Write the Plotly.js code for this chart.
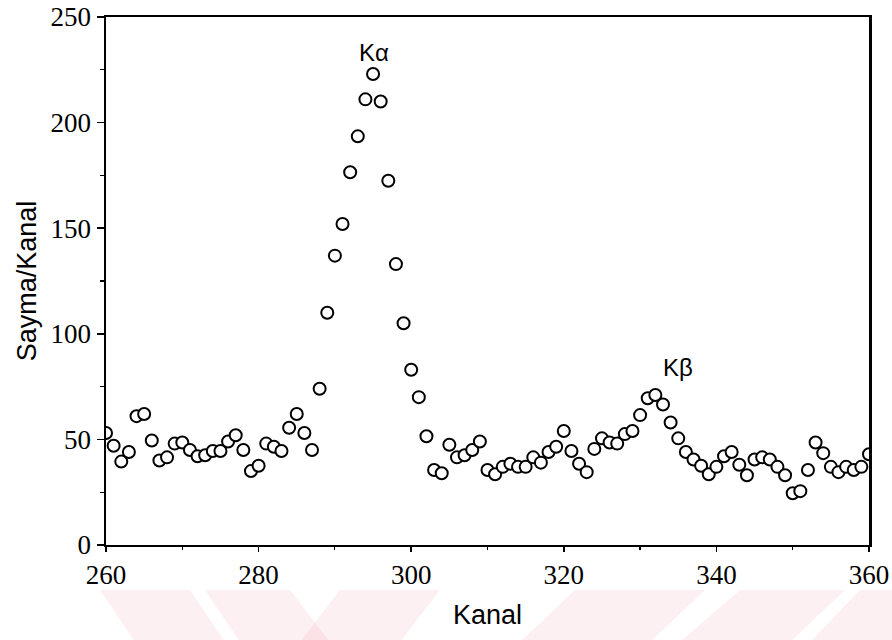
<!DOCTYPE html>
<html>
<head>
<meta charset="utf-8">
<script src="https://cdn.plot.ly/plotly-3.0.1.min.js"></script>
<style>
  html, body { margin: 0; padding: 0; background: #ffffff; }
  #chart { width: 892px; height: 640px; }
</style>
</head>
<body>
<div id="chart"></div>
<script>
// Channel numbers (Kanal)
const channels = [
  260, 261, 262, 263, 264, 265, 266, 267, 268, 269,
  270, 271, 272, 273, 274, 275, 276, 277, 278, 279,
  280, 281, 282, 283, 284, 285, 286, 287, 288, 289,
  290, 291, 292, 293, 294, 295, 296, 297, 298, 299,
  300, 301, 302, 303, 304, 305, 306, 307, 308, 309,
  310, 311, 312, 313, 314, 315, 316, 317, 318, 319,
  320, 321, 322, 323, 324, 325, 326, 327, 328, 329,
  330, 331, 332, 333, 334, 335, 336, 337, 338, 339,
  340, 341, 342, 343, 344, 345, 346, 347, 348, 349,
  350, 351, 352, 353, 354, 355, 356, 357, 358, 359,
  360
];

// Counts per channel (Sayma/Kanal)
const counts = [
  53, 47, 39.5, 44, 61, 62, 49.5, 40, 41.5, 48,
  48.5, 45, 42, 42.5, 44.5, 44.5, 49, 52, 45, 35,
  37.5, 48, 46.5, 44.5, 55.5, 62, 53, 45, 74, 110,
  137, 152, 176.5, 193.5, 211, 223, 210, 172.5, 133, 105,
  83, 70, 51.5, 35.5, 34, 47.5, 41.5, 42.5, 45, 49,
  35.5, 33.5, 37, 38.5, 37, 37, 41.5, 39, 44, 46.5,
  54, 44.5, 38.5, 34.5, 45.5, 50.5, 48.5, 48, 52.5, 54,
  61.5, 69.5, 71, 66.5, 58, 50.5, 44, 40.5, 37.5, 33.5,
  37, 42, 44, 38, 33, 40.5, 41.5, 40.5, 37, 33,
  24.5, 25.5, 35.5, 48.5, 43.5, 37, 34.5, 37, 35.5, 37,
  43
];

// Peak labels
const peakLabels = ["Kα", "Kβ"];
const peakX = [295.1, 335];
const peakY = [233, 84];

// Axis ticks
const xTickVals = [260, 280, 300, 320, 340, 360];
const xTickText = ["260", "280", "300", "320", "340", "360"];
const yTickVals = [0, 50, 100, 150, 200, 250];
const yTickText = ["0", "50", "100", "150", "200", "250"];

const serif = '"Liberation Serif", "Times New Roman", "DejaVu Serif", serif';
const sans = '"Liberation Sans", Arial, sans-serif';

const trace = {
  x: channels,
  y: counts,
  type: "scatter",
  mode: "markers",
  marker: {
    symbol: "circle",
    size: 12,
    color: "#ffffff",
    line: { color: "#000000", width: 2 }
  },
  hoverinfo: "x+y",
  showlegend: false
};

// faint watermark stripes under the x axis (paper coordinates)
function stripe(x0t, x1t, x0b, x1b) {
  const px = v => (v - 106) / 763;
  const yt = (545 - 590) / 528, yb = (545 - 642) / 528;
  return {
    type: "path", xref: "paper", yref: "paper", layer: "below",
    path: `M ${px(x0t)} ${yt} L ${px(x1t)} ${yt} L ${px(x1b)} ${yb} L ${px(x0b)} ${yb} Z`,
    fillcolor: "rgba(240,120,140,0.11)", line: { width: 0 }
  };
}

const layout = {
  width: 892,
  height: 640,
  paper_bgcolor: "#ffffff",
  plot_bgcolor: "#ffffff",
  margin: { l: 106, r: 23, t: 17, b: 95 },
  showlegend: false,
  xaxis: {
    range: [260, 360],
    tickmode: "array",
    tickvals: xTickVals,
    ticktext: xTickText,
    ticks: "outside",
    ticklen: 5,
    tickwidth: 1.5,
    tickcolor: "#000",
    minor: { dtick: 10, ticks: "outside", ticklen: 3, tickwidth: 1.2, tickcolor: "#000", showgrid: false },
    showline: true,
    linecolor: "#000",
    linewidth: 2,
    mirror: true,
    showgrid: false,
    zeroline: false,
    tickfont: { family: serif, size: 27, color: "#000" },
    title: {
      text: "Kanal",
      font: { family: sans, size: 27, color: "#000" },
      standoff: 16
    }
  },
  yaxis: {
    range: [0, 250],
    tickmode: "array",
    tickvals: yTickVals,
    ticktext: yTickText,
    ticks: "outside",
    ticklen: 7,
    tickwidth: 1.5,
    tickcolor: "#000",
    minor: { dtick: 25, ticks: "outside", ticklen: 4, tickwidth: 1.2, tickcolor: "#000", showgrid: false },
    showline: true,
    linecolor: "#000",
    linewidth: 2.5,
    mirror: true,
    showgrid: false,
    zeroline: false,
    tickfont: { family: serif, size: 27, color: "#000" },
    title: {
      text: "Sayma/Kanal",
      font: { family: sans, size: 27, color: "#000" },
      standoff: 6
    }
  },
  annotations: peakLabels.map((t, i) => ({
    x: peakX[i], y: peakY[i], xref: "x", yref: "y",
    text: t, showarrow: false,
    font: { family: sans, size: 24, color: "#000" }
  })),
  shapes: [
    stripe(100, 190, 135, 225),
    stripe(205, 290, 240, 330),
    stripe(340, 440, 300, 400),
    stripe(575, 705, 520, 650),
    stripe(740, 845, 680, 790),
    stripe(860, 900, 810, 900)
  ]
};

Plotly.newPlot("chart", [trace], layout, { displayModeBar: false, staticPlot: true });
</script>
</body>
</html>
